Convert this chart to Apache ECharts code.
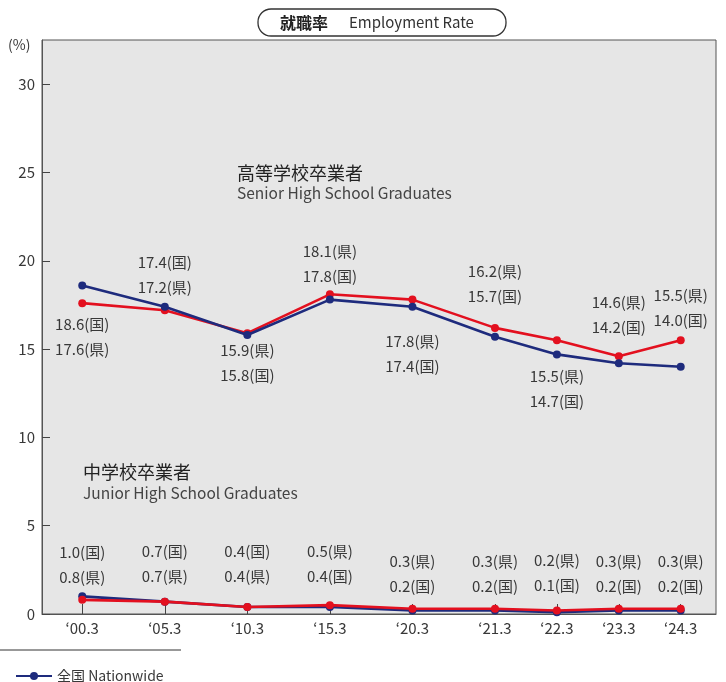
<!DOCTYPE html>
<html>
<head>
<meta charset="utf-8">
<script src="https://cdn.jsdelivr.net/npm/echarts@6/dist/echarts.min.js"></script>
<style>
html,body{margin:0;padding:0;background:#fff;}
#chart{width:726px;height:682px;}
</style>
</head>
<body>
<div id="chart"></div>
<script>
// ---- data ----
const categories = ['‘00.3', '‘05.3', '‘10.3', '‘15.3', '‘20.3', '‘21.3', '‘22.3', '‘23.3', '‘24.3'];
const hsNation = [18.6, 17.4, 15.8, 17.8, 17.4, 15.7, 14.7, 14.2, 14.0];
const hsPref   = [17.6, 17.2, 15.9, 18.1, 17.8, 16.2, 15.5, 14.6, 15.5];
const jhNation = [1.0, 0.7, 0.4, 0.4, 0.2, 0.2, 0.1, 0.2, 0.2];
const jhPref   = [0.8, 0.7, 0.4, 0.5, 0.3, 0.3, 0.2, 0.3, 0.3];
const yTicks = [0, 5, 10, 15, 20, 25, 30];

// ---- layout (axis spacing units between consecutive categories, label offsets in px) ----
const slotGap = [4, 4, 4, 4, 4, 3, 3, 3];
const hsLabelDy = [51, -32, 28, -36, 47, -53, 34, -48, -59];
const jhLabelDy = [-32, -38, -43, -43, -37, -37, -39, -37, -37];

const slots = [0];
slotGap.forEach(g => slots.push(slots[slots.length - 1] + g));

const NAVY = '#1e2b7d';
const RED = '#e3101f';
const TXT = '#383838';
const FONT = '"Noto Sans CJK JP", "Noto Sans", sans-serif';

function pairText(i, nat, pref) {
  const a = nat[i].toFixed(1) + '(国)';
  const b = pref[i].toFixed(1) + '(県)';
  return pref[i] > nat[i] ? b + '\n' + a : a + '\n' + b;
}

function makeData(vals, withLabels, dy, nat, pref) {
  return slots.map((s, i) => {
    const item = { value: [s, vals[i]] };
    if (withLabels) {
      item.label = {
        show: true, position: 'inside', offset: [0, dy[i]],
        formatter: () => pairText(i, nat, pref),
        color: TXT, fontSize: 15, lineHeight: 25, fontFamily: FONT,
        align: 'center', verticalAlign: 'middle'
      };
    }
    return item;
  });
}

const lineStyleBase = { width: 2.6 };

const chart = echarts.init(document.getElementById('chart'), null, { renderer: 'canvas' });
const option = {
  backgroundColor: '#ffffff',
  animation: false,
  textStyle: { fontFamily: FONT },
  grid: {
    left: 42, right: 10, top: 40, bottom: 68,
    show: true, backgroundColor: '#e6e6e6', borderColor: '#555', borderWidth: 1
  },
  legend: {
    left: 10, top: 664,
    itemWidth: 36, itemHeight: 10, itemGap: 20,
    data: ['全国 Nationwide'],
    textStyle: { color: TXT, fontSize: 14, fontFamily: FONT }
  },
  xAxis: {
    type: 'value', min: -1.95, max: 30.71,
    splitLine: { show: false },
    axisLine: { show: true, onZero: false, lineStyle: { color: '#555', width: 1 } },
    axisTick: { show: true, inside: true, length: 10, customValues: slots, lineStyle: { color: '#444' } },
    axisLabel: {
      customValues: slots, margin: 7,
      formatter: v => categories[slots.indexOf(v)] || '',
      color: TXT, fontSize: 15, fontFamily: FONT
    }
  },
  yAxis: {
    type: 'value', min: 0, max: 32.5, interval: 5,
    splitLine: { show: false },
    axisLine: { show: true, onZero: false, lineStyle: { color: '#555', width: 1 } },
    axisTick: { show: true, inside: true, length: 8, customValues: yTicks, lineStyle: { color: '#444' } },
    axisLabel: { customValues: yTicks, margin: 7, color: TXT, fontSize: 15, fontFamily: FONT }
  },
  graphic: [
    { type: 'rect', shape: { x: 258, y: 9, width: 248, height: 27, r: 13 },
      style: { fill: '#fff', stroke: '#333', lineWidth: 1.3 } },
    { type: 'text', x: 280, y: 22.5,
      style: { text: '就職率', fill: '#222', font: 'bold 16px ' + FONT, verticalAlign: 'middle' } },
    { type: 'text', x: 349, y: 22.5,
      style: { text: 'Employment Rate', fill: '#333', font: '15px ' + FONT, verticalAlign: 'middle' } },
    { type: 'text', x: 8, y: 45,
      style: { text: '(%)', fill: TXT, font: '14px ' + FONT, verticalAlign: 'middle' } },
    { type: 'text', x: 237, y: 173, z: 10,
      style: { text: '高等学校卒業者', fill: '#222', font: '18px ' + FONT, verticalAlign: 'middle' } },
    { type: 'text', x: 237, y: 193, z: 10,
      style: { text: 'Senior High School Graduates', fill: '#444', font: '15.5px ' + FONT, verticalAlign: 'middle' } },
    { type: 'text', x: 83, y: 472, z: 10,
      style: { text: '中学校卒業者', fill: '#222', font: '18px ' + FONT, verticalAlign: 'middle' } },
    { type: 'text', x: 83, y: 493, z: 10,
      style: { text: 'Junior High School Graduates', fill: '#444', font: '15.5px ' + FONT, verticalAlign: 'middle' } },
    { type: 'line', shape: { x1: 0, y1: 650, x2: 181, y2: 650 },
      style: { stroke: '#333', lineWidth: 1 } }
  ],
  series: [
    { name: '全国 Nationwide', type: 'line', color: NAVY, symbol: 'circle', symbolSize: 8,
      lineStyle: Object.assign({ color: NAVY }, lineStyleBase), itemStyle: { color: NAVY },
      data: makeData(hsNation, true, hsLabelDy, hsNation, hsPref), z: 3 },
    { name: '県', type: 'line', color: RED, symbol: 'circle', symbolSize: 8,
      lineStyle: Object.assign({ color: RED }, lineStyleBase), itemStyle: { color: RED },
      data: makeData(hsPref, false), z: 2 },
    { name: '全国 Nationwide', type: 'line', color: NAVY, symbol: 'circle', symbolSize: 8,
      lineStyle: Object.assign({ color: NAVY }, lineStyleBase), itemStyle: { color: NAVY },
      data: makeData(jhNation, true, jhLabelDy, jhNation, jhPref), z: 2 },
    { name: '県', type: 'line', color: RED, symbol: 'circle', symbolSize: 8,
      lineStyle: Object.assign({ color: RED }, lineStyleBase), itemStyle: { color: RED },
      data: makeData(jhPref, false), z: 3 }
  ]
};
chart.setOption(option);
</script>
</body>
</html>
